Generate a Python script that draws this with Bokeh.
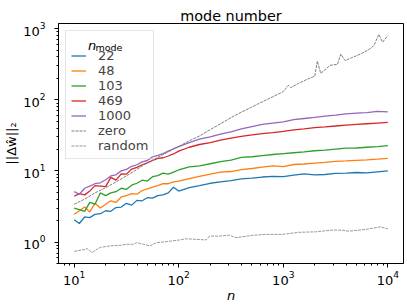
import math
from bokeh.plotting import figure
from bokeh.models import Legend, LegendItem, Label, Range1d, Title
from bokeh.embed import file_html
from bokeh.resources import INLINE

# ---- data ----
n = [10, 11.2, 12.6, 14.1, 15.8, 17.8, 20, 22.4, 25.1, 28.2, 31.6, 35.5, 39.8, 44.7,
     50.1, 56.2, 63.1, 70.8, 79.4, 89.1, 100, 126, 158, 200, 251, 316, 398, 501, 631,
     794, 1000, 1259, 1585, 1995, 2512, 3162, 3981, 5012, 6310, 7943, 10000]

mode_22 = [2.06, 1.82, 2.25, 2.2, 2.45, 2.5, 2.75, 2.7, 3.05, 3.1, 3.5, 3.3, 3.85, 3.8,
           4.2, 4.15, 4.5, 4.6, 4.9, 5.9, 5.2, 5.8, 6.2, 6.7, 7.0, 7.3, 7.7, 7.9, 8.2,
           8.4, 8.3, 8.7, 9.1, 8.8, 8.9, 9.2, 9.3, 9.5, 9.4, 9.7, 10.0]
mode_48 = [2.45, 2.75, 3.1, 2.65, 3.5, 3.0, 3.4, 3.8, 3.6, 4.3, 4.5, 4.8, 4.7, 5.3,
           5.6, 5.9, 6.2, 6.6, 6.6, 7.0, 7.2, 7.8, 8.4, 9.0, 9.6, 9.8, 10.4, 10.8, 11.3,
           11.8, 11.5, 12.3, 12.5, 12.9, 13.2, 13.6, 13.8, 14.1, 14.3, 14.6, 15.0]
mode_103 = [3.0, 2.85, 2.7, 3.6, 3.4, 4.9, 4.5, 4.9, 5.1, 5.7, 5.5, 6.3, 6.7, 7.4,
            7.2, 8.3, 8.6, 9.3, 9.0, 9.6, 10.3, 11.4, 11.8, 12.6, 13.5, 14.2, 15.5, 15.8,
            16.4, 17.0, 17.5, 18.0, 18.5, 19.2, 19.6, 20.3, 20.9, 21.0, 21.5, 22.0, 22.6]
mode_469 = [4.4, 4.8, 4.6, 5.2, 6.2, 6.1, 6.0, 8.1, 7.4, 9.1, 9.0, 10.6, 11.2, 12.2,
            13.0, 14.0, 15.0, 15.3, 16.2, 17.3, 19.0, 21.5, 23.5, 25.0, 27.0, 28.8, 30.5,
            32.0, 33.5, 34.5, 36.0, 37.8, 39.0, 40.5, 41.5, 42.8, 44.0, 45.0, 46.0, 47.0, 48.0]
mode_1000 = [5.1, 4.7, 5.7, 6.1, 6.6, 6.8, 7.5, 8.5, 8.8, 10.0, 10.5, 11.6, 12.2, 13.4,
             14.0, 15.8, 16.5, 17.5, 19.0, 20.5, 22.0, 25.0, 28.0, 30.0, 33.0, 35.5, 39.0,
             42.0, 45.0, 47.0, 49.0, 52.5, 54.5, 56.5, 59.0, 61.0, 63.5, 65.0, 66.0, 68.5, 67.5]

zero_n = [10, 12.6, 15.8, 20, 25.1, 31.6, 39.8, 50.1, 63.1, 79.4, 100, 126, 158, 200,
          251, 316, 398, 501, 631, 794, 1000, 1120, 1180, 1400, 1700, 2000, 2120, 2280,
          2800, 3300, 3550, 3900, 4500, 5500, 6300, 7000, 7400, 8200, 8900, 10000]
zero_v = [3.4, 4.0, 4.9, 5.8, 7.0, 8.5, 10.5, 13.0, 15.5, 18.5, 22, 26.5, 31, 38,
          46, 56, 67, 79, 94, 110, 130, 160, 148, 170, 195, 215, 350, 235,
          305, 315, 440, 355, 390, 440, 490, 540, 590, 830, 645, 800]

random_n = [10, 12.4, 13.3, 14.8, 16.5, 17.8, 22.1, 27.5, 31.8, 36.8, 39.7, 45.8, 53, 61,
            76, 102, 118, 147, 183, 197, 245, 305, 354, 505, 680, 980, 1410, 2030, 2930,
            3630, 4200, 6080, 8460, 10000]
random_v = [0.74, 0.78, 0.81, 0.71, 0.79, 0.84, 0.88, 0.90, 0.93, 0.93, 0.98, 0.93, 0.88, 0.98,
            1.01, 1.07, 1.11, 1.09, 1.07, 1.21, 1.21, 1.25, 1.15, 1.24, 1.28, 1.28, 1.37, 1.39,
            1.47, 1.47, 1.42, 1.50, 1.63, 1.53]

series_labels = ["22", "48", "103", "469", "1000"]
series_values = [mode_22, mode_48, mode_103, mode_469, mode_1000]
series_colors = ["#1f77b4", "#ff7f0e", "#2ca02c", "#d62728", "#9467bd"]

title_text = "mode number"
x_label = "n"
y_label = "||Δŵ||₂"
legend_title_main = "n"
legend_title_sub = "mode"

# ---- ranges: 5% padding in log space (matplotlib style) ----
all_x = n + zero_n + random_n
all_y = [v for s in series_values for v in s] + zero_v + random_v
lx0, lx1 = math.log10(min(all_x)), math.log10(max(all_x))
ly0, ly1 = math.log10(min(all_y)), math.log10(max(all_y))
px, py = 0.05 * (lx1 - lx0), 0.05 * (ly1 - ly0)
XLO, XHI = lx0 - px, lx1 + px
YLO, YHI = ly0 - py, ly1 + py

# ---- layout (canvas pixels) ----
W, H = 407, 305
BL, BR, BT, BB = 57, 4, 23, 37
FW, FH = W - BL - BR, H - BT - BB
FONT = "DejaVu Sans"


def xd(fx):
    """canvas pixel x -> data x (log axis)"""
    return 10 ** (XLO + (fx - BL) / FW * (XHI - XLO))


def yd(fy):
    """canvas pixel y (from top) -> data y (log axis)"""
    return 10 ** (YLO + (BT + FH - fy) / FH * (YHI - YLO))


p = figure(width=W, height=H, x_axis_type="log", y_axis_type="log",
           x_range=Range1d(10 ** XLO, 10 ** XHI),
           y_range=Range1d(10 ** YLO, 10 ** YHI),
           output_backend="svg", toolbar_location=None,
           min_border_left=BL, min_border_right=BR, min_border_top=BT, min_border_bottom=BB)

p.title.text = title_text
p.title.align = "center"
p.title.text_font = FONT
p.title.text_font_size = "14.4px"
p.title.text_font_style = "normal"
p.title.text_color = "black"
p.title.standoff = 0

p.xgrid.visible = False
p.ygrid.visible = False
p.outline_line_color = "black"
p.outline_line_alpha = 1
p.outline_line_width = 1
p.background_fill_color = "white"
p.border_fill_color = "white"

for ax in (p.xaxis[0], p.yaxis[0]):
    ax.major_label_text_font = FONT
    ax.major_label_text_font_size = "13px"
    ax.major_label_text_color = "black"
    ax.axis_line_color = "black"
    ax.major_tick_line_color = "black"
    ax.minor_tick_line_color = "black"
    ax.major_tick_out = 4
    ax.major_tick_in = 0
    ax.minor_tick_out = 2
    ax.minor_tick_in = 0
    ax.axis_label_text_font = FONT
    ax.axis_label_text_font_size = "13px"
    ax.axis_label_text_color = "black"

p.xaxis.major_label_standoff = 3
p.yaxis.major_label_standoff = 9
p.xaxis.axis_label = x_label
p.xaxis.axis_label_text_font_style = "italic"
p.xaxis.axis_label_standoff = 0

# y-axis label as a vertical title panel to the left of the axis
p.add_layout(Title(text=y_label, align="center", text_font=FONT, text_font_size="13px",
                   text_font_style="normal", text_color="black", standoff=3, offset=22),
             "left")

items = []
for lab, vals, col in zip(series_labels, series_values, series_colors):
    r = p.line(n, vals, line_color=col, line_width=1.3)
    items.append(LegendItem(label=lab, renderers=[r]))

rz = p.line(zero_n, zero_v, line_color="#7f7f7f", line_width=1, line_dash="3 1")
items.append(LegendItem(label="zero", renderers=[rz]))
rr = p.line(random_n, random_v, line_color="#999999", line_width=1, line_dash="3 1")
items.append(LegendItem(label="random", renderers=[rr]))

legend = Legend(items=items, location="top_left", title=" ",
                margin=7, padding=5, spacing=0, label_standoff=12,
                glyph_width=15, glyph_height=15, label_height=15,
                label_text_font=FONT, label_text_font_size="13px",
                title_text_font=FONT, title_text_font_size="10px", title_standoff=1,
                border_line_color="#cccccc", border_line_width=1,
                background_fill_color="white", background_fill_alpha=0.0)
p.add_layout(legend)

# legend title  n_mode (inside the frame, so placed in data units)
p.add_layout(Label(x=xd(86.5), y=yd(45), text=legend_title_main, text_font=FONT,
                   text_font_size="13px", text_font_style="italic",
                   text_baseline="alphabetic", text_color="black"))
p.add_layout(Label(x=xd(94), y=yd(47), text=legend_title_sub, text_font=FONT,
                   text_font_size="9.5px", text_baseline="alphabetic", text_color="black"))

open("out.html", "w").write(file_html(p, INLINE))
